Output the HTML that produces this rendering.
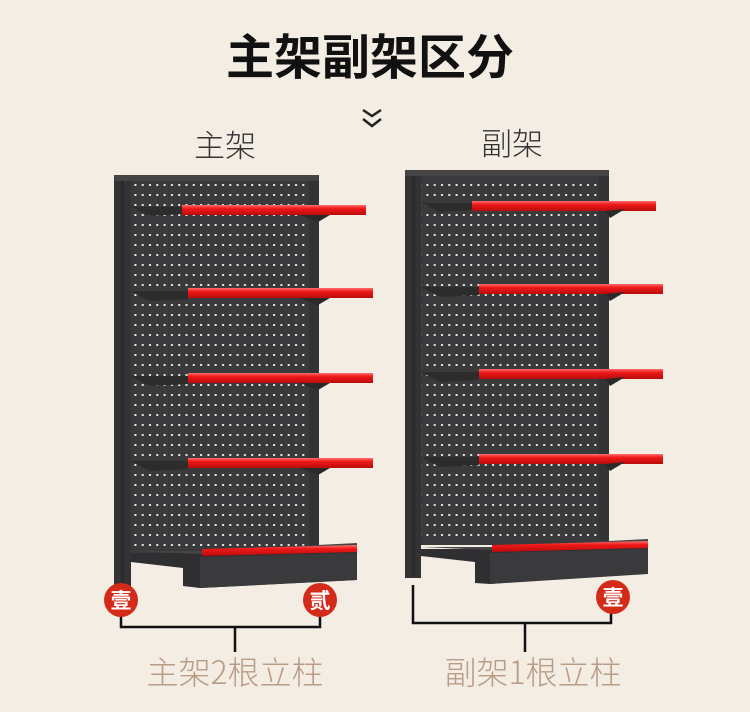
<!DOCTYPE html>
<html><head><meta charset="utf-8"><style>
html,body{margin:0;padding:0;}
body{width:750px;height:712px;background:#f3ede4;overflow:hidden;position:relative;font-family:"Liberation Sans","Noto Sans CJK SC",sans-serif;}
svg{position:absolute;left:0;top:0;}
</style></head><body>
<svg width="750" height="712" viewBox="0 0 750 712" xmlns="http://www.w3.org/2000/svg">
<defs>
<pattern id="holes" x="0" y="0" width="7.3" height="10" patternUnits="userSpaceOnUse">
<rect width="7.3" height="10" fill="#3a3a3c"/>
<rect x="3" y="4" width="2" height="2" fill="#e8e8e8"/>
</pattern>
<linearGradient id="red" x1="0" y1="0" x2="0" y2="1">
<stop offset="0" stop-color="#ff7070"/><stop offset="0.35" stop-color="#f01818"/><stop offset="1" stop-color="#b80c0c"/>
</linearGradient>
</defs>
<text x="370" y="74" text-anchor="middle" font-size="48" font-weight="bold" fill="#111" font-family="'Noto Sans CJK SC',sans-serif">主架副架区分</text>
<polyline points="363,110 372,116 381,110" fill="none" stroke="#222" stroke-width="2.5"/>
<polyline points="363,119 372,126 381,119" fill="none" stroke="#222" stroke-width="2.5"/>
<text x="225" y="157" text-anchor="middle" font-size="31" fill="#333" font-family="'Noto Sans CJK SC',sans-serif" font-weight="300">主架</text>
<text x="512" y="155" text-anchor="middle" font-size="31" fill="#333" font-family="'Noto Sans CJK SC',sans-serif" font-weight="300">副架</text>

<!-- LEFT UNIT -->
<rect x="114" y="175" width="205" height="380" fill="#3a3a3c"/>
<rect x="131" y="181" width="178" height="365" fill="url(#holes)"/>
<rect x="114" y="175" width="17" height="412" fill="#333335"/>
<rect x="121" y="180" width="3" height="405" fill="#2a2a2a"/>
<rect x="309" y="175" width="10" height="380" fill="#333335"/>
<rect x="114" y="175" width="205" height="6" fill="#444"/>
<g>
<path d="M131,207 L182,207 L182,214 L150,216 Z" fill="#2c2c2c"/>
<rect x="182" y="205" width="184" height="10" fill="url(#red)"/>
<path d="M300,215 L330,215 L318,222 Z" fill="#2a2a2a"/>
<path d="M131,291 L188,291 L188,299 L150,301 Z" fill="#2c2c2c"/>
<rect x="188" y="288" width="185" height="10" fill="url(#red)"/>
<path d="M300,298 L330,298 L318,305 Z" fill="#2a2a2a"/>
<path d="M131,376 L188,376 L188,384 L150,386 Z" fill="#2c2c2c"/>
<rect x="188" y="373" width="185" height="10" fill="url(#red)"/>
<path d="M300,383 L330,383 L318,390 Z" fill="#2a2a2a"/>
<path d="M131,461 L188,461 L188,469 L150,471 Z" fill="#2c2c2c"/>
<rect x="188" y="458" width="185" height="10" fill="url(#red)"/>
<path d="M300,468 L330,468 L318,475 Z" fill="#2a2a2a"/>
</g>
<path d="M131,553 L200,553 L357,547 L357,580 L200,588 L183,586 L183,568 L131,562 Z" fill="#2f2f31"/>
<path d="M131,551 L200,551 L357,543 L357,547 L200,554 Z" fill="#454547"/>
<path d="M202,549 L357,545 L357,552 L202,556 Z" fill="url(#red)"/>
<path d="M200,557 L357,553 L357,580 L200,588 Z" fill="#3a3a3c"/>

<!-- RIGHT UNIT -->
<rect x="405" y="170" width="204" height="375" fill="#3a3a3c"/>
<rect x="421" y="176" width="178" height="362" fill="url(#holes)"/>
<rect x="405" y="170" width="16" height="408" fill="#333335"/>
<rect x="412" y="175" width="3" height="400" fill="#2a2a2a"/>
<rect x="599" y="170" width="10" height="370" fill="#333335"/>
<rect x="405" y="170" width="204" height="6" fill="#444"/>
<g>
<path d="M421,203 L472,203 L472,210 L440,212 Z" fill="#2c2c2c"/>
<rect x="472" y="201" width="184" height="10" fill="url(#red)"/>
<path d="M605,211 L625,209 L610,218 Z" fill="#2a2a2a"/>
<path d="M421,287 L479,287 L479,295 L440,297 Z" fill="#2c2c2c"/>
<rect x="479" y="284" width="184" height="10" fill="url(#red)"/>
<path d="M605,294 L625,292 L610,301 Z" fill="#2a2a2a"/>
<path d="M421,372 L479,372 L479,380 L440,382 Z" fill="#2c2c2c"/>
<rect x="479" y="369" width="184" height="10" fill="url(#red)"/>
<path d="M605,379 L625,377 L610,386 Z" fill="#2a2a2a"/>
<path d="M421,457 L479,457 L479,465 L440,467 Z" fill="#2c2c2c"/>
<rect x="479" y="454" width="184" height="10" fill="url(#red)"/>
<path d="M605,464 L625,462 L610,471 Z" fill="#2a2a2a"/>
</g>
<path d="M421,549 L490,549 L648,542 L648,572 L490,584 L475,583 L475,562 L421,556 Z" fill="#2f2f31"/>
<path d="M421,547 L490,547 L648,539 L648,543 L490,550 Z" fill="#454547"/>
<path d="M492,545 L648,541 L648,548 L492,552 Z" fill="url(#red)"/>
<path d="M490,553 L648,549 L648,574 L490,584 Z" fill="#3a3a3c"/>

<g stroke="#111" stroke-width="2.5" fill="none">
<polyline points="121,615 121,627 320,627 320,615"/>
<line x1="235" y1="627" x2="235" y2="652"/>
<polyline points="413,585 413,623 611,623 611,612"/>
<line x1="525" y1="623" x2="525" y2="652"/>
</g>
<g font-family="'Noto Sans CJK SC',sans-serif" font-weight="bold" font-size="21" fill="#fff" text-anchor="middle">
<circle cx="121" cy="600" r="17" fill="#d42a1a"/><text x="121" y="608">壹</text>
<circle cx="320" cy="600" r="17" fill="#d42a1a"/><text x="320" y="608">贰</text>
<circle cx="613" cy="597" r="17" fill="#d42a1a"/><text x="613" y="605">壹</text>
</g>
<text x="235" y="684" text-anchor="middle" font-size="32" fill="#b99c86" font-family="'Noto Sans CJK SC',sans-serif" font-weight="300">主架2根立柱</text>
<text x="533" y="684" text-anchor="middle" font-size="32" fill="#b99c86" font-family="'Noto Sans CJK SC',sans-serif" font-weight="300">副架1根立柱</text>
</svg>
</body></html>
